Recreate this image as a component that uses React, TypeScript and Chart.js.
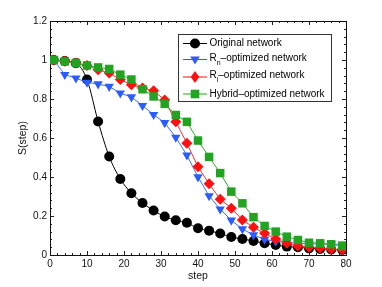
import React, { useEffect, useRef } from "react";
import { Chart, registerables } from "chart.js";

Chart.register(...registerables);

const steps = [1, 4, 7, 10, 13, 16, 19, 22, 25, 28, 31, 34, 37, 40, 43, 46, 49, 52, 55, 58, 61, 64, 67, 70, 73, 76, 79];

const original = [1.0, 0.995, 0.984, 0.9, 0.685, 0.505, 0.39, 0.317, 0.267, 0.228, 0.197, 0.178, 0.165, 0.137, 0.125, 0.11, 0.092, 0.082, 0.072, 0.06, 0.051, 0.043, 0.04, 0.034, 0.031, 0.028, 0.026];
const rnOpt = [1.0, 0.925, 0.907, 0.885, 0.877, 0.864, 0.83, 0.81, 0.766, 0.72, 0.678, 0.603, 0.512, 0.4, 0.303, 0.235, 0.178, 0.133, 0.103, 0.08, 0.07, 0.065, 0.06, 0.058, 0.056, 0.055, 0.055];
const rlOpt = [1.0, 0.993, 0.985, 0.972, 0.95, 0.933, 0.9, 0.873, 0.857, 0.842, 0.795, 0.683, 0.573, 0.452, 0.365, 0.286, 0.24, 0.18, 0.142, 0.111, 0.082, 0.06, 0.046, 0.04, 0.035, 0.03, 0.026];
const hybridOpt = [1.0, 0.993, 0.985, 0.972, 0.962, 0.954, 0.925, 0.9, 0.85, 0.813, 0.775, 0.718, 0.683, 0.587, 0.503, 0.42, 0.325, 0.265, 0.194, 0.149, 0.12, 0.094, 0.077, 0.063, 0.06, 0.055, 0.046];

const xTicks = [0, 10, 20, 30, 40, 50, 60, 70, 80];
const yTicks = [0, 0.2, 0.4, 0.6, 0.8, 1, 1.2];

const FONT = "'Liberation Sans', Arial, Helvetica, sans-serif";

const COLORS = {
  black: "#000000",
  blue: "#2b5cff",
  red: "#ff1010",
  green: "#22a322",
};

function drawMarker(ctx: CanvasRenderingContext2D, kind: string, x: number, y: number, color: string) {
  ctx.save();
  ctx.fillStyle = color;
  ctx.beginPath();
  if (kind === "circle") {
    ctx.arc(x, y, 5, 0, Math.PI * 2);
  } else if (kind === "tri") {
    ctx.moveTo(x - 4.8, y - 3);
    ctx.lineTo(x + 4.8, y - 3);
    ctx.lineTo(x, y + 5);
    ctx.closePath();
  } else if (kind === "diamond") {
    ctx.moveTo(x, y - 6);
    ctx.lineTo(x + 4.3, y);
    ctx.lineTo(x, y + 6);
    ctx.lineTo(x - 4.3, y);
    ctx.closePath();
  } else {
    ctx.rect(x - 4.3, y - 4.3, 8.6, 8.6);
  }
  ctx.fill();
  ctx.restore();
}

const frameTicks = {
  id: "frameTicks",
  beforeDatasetsDraw(chart: any) {
    const { ctx, chartArea } = chart;
    const { left, right, top, bottom } = chartArea;
    const xs = chart.scales.x;
    const ys = chart.scales.y;
    ctx.save();
    ctx.strokeStyle = "#222";
    ctx.lineWidth = 1;
    ctx.beginPath();
    // minor/major x ticks
    for (let v = 0; v <= 80; v += 2) {
      const px = Math.round(xs.getPixelForValue(v)) + 0.5;
      const len = v % 10 === 0 ? 4 : 2;
      ctx.moveTo(px, bottom);
      ctx.lineTo(px, bottom - len);
      ctx.moveTo(px, top);
      ctx.lineTo(px, top + len);
    }
    for (let i = 0; i <= 30; i++) {
      const v = i * 0.04;
      const py = Math.round(ys.getPixelForValue(v)) + 0.5;
      const len = i % 5 === 0 ? 4 : 2;
      ctx.moveTo(left, py);
      ctx.lineTo(left + len, py);
      ctx.moveTo(right, py);
      ctx.lineTo(right - len, py);
    }
    ctx.stroke();
    ctx.strokeStyle = "#111";
    ctx.strokeRect(Math.round(left) + 0.5, Math.round(top) + 0.5, Math.round(right - left), Math.round(bottom - top));
    ctx.restore();
  },
};

const legendPlugin = {
  id: "customLegend",
  afterDraw(chart: any) {
    const ctx: CanvasRenderingContext2D = chart.ctx;
    ctx.save();
    const bx = 178.5, by = 34.5, bw = 153, bh = 67;
    ctx.fillStyle = "#fff";
    ctx.fillRect(bx, by, bw, bh);
    ctx.strokeStyle = "#333";
    ctx.lineWidth = 1;
    ctx.strokeRect(bx, by, bw, bh);
    const rows = [
      { y: 43.5, color: COLORS.black, kind: "circle", pre: "Original network", sub: "", post: "" },
      { y: 59.5, color: COLORS.blue, kind: "tri", pre: "R", sub: "n", post: "\u2013optimized network" },
      { y: 77, color: COLORS.red, kind: "diamond", pre: "R", sub: "l", post: "\u2013optimized network" },
      { y: 94, color: COLORS.green, kind: "square", pre: "Hybrid\u2013optimized network", sub: "", post: "" },
    ];
    for (const r of rows) {
      ctx.strokeStyle = r.color;
      ctx.lineWidth = 1;
      ctx.beginPath();
      ctx.moveTo(183, r.y);
      ctx.lineTo(207, r.y);
      ctx.stroke();
      drawMarker(ctx, r.kind, 195, r.y, r.color);
      ctx.fillStyle = "#000";
      ctx.textBaseline = "middle";
      ctx.textAlign = "left";
      ctx.font = `10px ${FONT}`;
      let x = 209.5;
      const ty = r.sub ? r.y - 1.5 : r.y;
      ctx.fillText(r.pre, x, ty);
      x += ctx.measureText(r.pre).width;
      if (r.sub) {
        ctx.font = `7px ${FONT}`;
        ctx.fillText(r.sub, x, ty + 5);
        x += ctx.measureText(r.sub).width;
        ctx.font = `10px ${FONT}`;
        ctx.fillText(r.post, x, ty);
      }
    }
    ctx.restore();
  },
};

function toPoints(vals: number[]) {
  return steps.map((s, i) => ({ x: s, y: vals[i] }));
}

export default function App() {
  const ref = useRef<HTMLCanvasElement | null>(null);
  useEffect(() => {
    if (!ref.current) return;
    const mk = (label: string, vals: number[], color: string, lineColor: string, style: any, radius: number, rotation: number, order: number, mono: boolean) => ({
      label,
      data: toPoints(vals),
      borderColor: lineColor,
      backgroundColor: color,
      pointBackgroundColor: color,
      pointBorderColor: color,
      pointBorderWidth: 0,
      pointStyle: style,
      pointRadius: radius,
      pointRotation: rotation,
      borderWidth: 1,
      order,
      cubicInterpolationMode: mono ? "monotone" : "default",
    });
    const chart = new Chart(ref.current, {
      type: "line",
      data: {
        datasets: [
          mk("Original network", original, COLORS.black, "#000", "circle", 5, 0, 4, true),
          mk("Rn-optimized network", rnOpt, COLORS.blue, "#3f6dff", "triangle", 5.4, 180, 3, false),
          mk("Rl-optimized network", rlOpt, COLORS.red, "#ff3030", "rectRot", 5.5, 0, 2, false),
          mk("Hybrid-optimized network", hybridOpt, COLORS.green, "#2fae2f", "rect", 6, 0, 1, false),
        ] as any,
      },
      options: {
        animation: false,
        responsive: false,
        layout: { padding: { top: 21, right: 36, left: 0, bottom: 0 } },
        plugins: { legend: { display: false }, tooltip: { enabled: false } },
        scales: {
          x: {
            type: "linear",
            min: 0,
            max: 80,
            afterBuildTicks: (s: any) => {
              s.ticks = xTicks.map((v) => ({ value: v }));
            },
            afterFit: (s: any) => {
              s.height = 32;
            },
            grid: { display: false, drawTicks: false },
            border: { display: false },
            ticks: { color: "#111", font: { family: FONT, size: 10 }, padding: 3, maxRotation: 0, autoSkip: false },
            title: { display: true, text: "step", color: "#111", font: { family: FONT, size: 10.5 }, padding: { top: 0, bottom: 5 } },
          },
          y: {
            type: "linear",
            min: 0,
            max: 1.2,
            afterBuildTicks: (s: any) => {
              s.ticks = yTicks.map((v) => ({ value: v }));
            },
            afterFit: (s: any) => {
              s.width = 50;
            },
            grid: { display: false, drawTicks: false },
            border: { display: false },
            ticks: {
              color: "#111",
              font: { family: FONT, size: 10 },
              padding: 3,
              callback: (v: any) => String(Number(Number(v).toFixed(1))),
            },
            title: { display: true, text: "S(step)", color: "#111", font: { family: FONT, size: 10.5 }, padding: { top: 17, bottom: 0 } },
          },
        },
      } as any,
      plugins: [frameTicks, legendPlugin],
    });
    return () => chart.destroy();
  }, []);
  return (
    <div style={{ position: "fixed", left: 0, top: 0, width: 382, height: 287, background: "#fff" }}>
      <canvas ref={ref} width={382} height={287} style={{ display: "block" }} />
    </div>
  );
}
